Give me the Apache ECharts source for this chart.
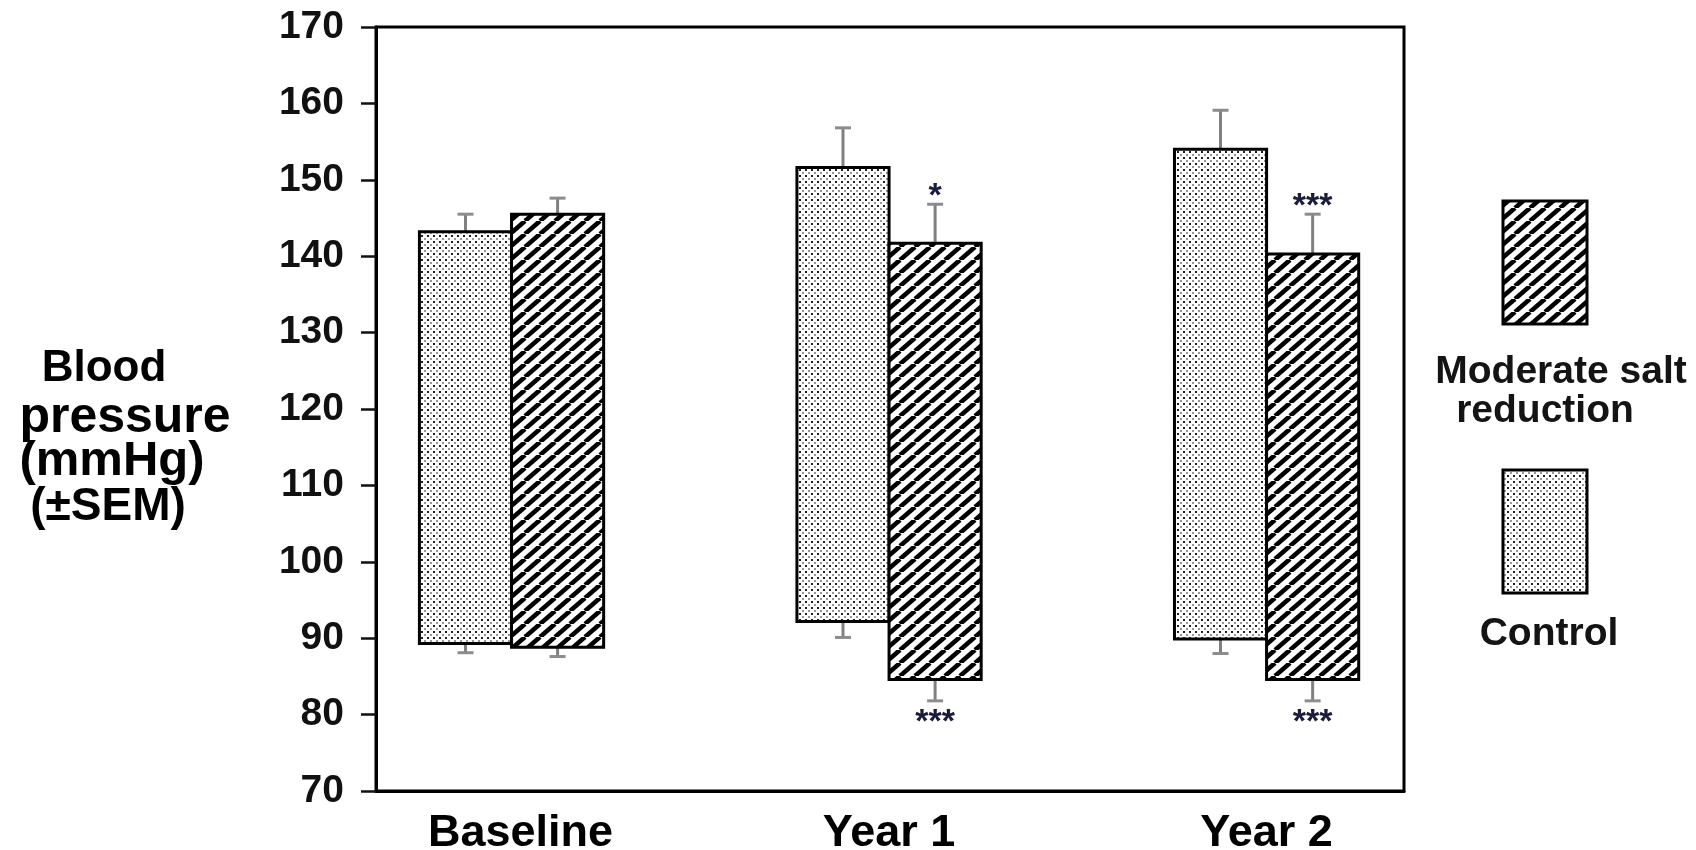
<!DOCTYPE html>
<html>
<head>
<meta charset="utf-8">
<script src="https://cdn.jsdelivr.net/npm/echarts@6/dist/echarts.min.js"></script>
<style>
html,body{margin:0;padding:0;background:#fff;}
#chart{width:1696px;height:850px;}
</style>
</head>
<body>
<div id="chart"></div>
<script>
// ---------- DATA ----------
const categories = ['Baseline', 'Year 1', 'Year 2'];
const seriesNames = ['Moderate salt reduction', 'Control'];
const legendLines = [['Moderate salt', 'reduction'], ['Control']];
const yTitleLines = ['Blood', 'pressure', '(mmHg)', '(\u00b1SEM)'];

// Control group (dotted bars): systolic (top) / diastolic (bottom), mmHg
const controlSystolic = [143.2, 151.6, 154.0];
const controlDiastolic = [89.3, 92.2, 89.9];
const controlSystolicSEM = [2.3, 5.2, 5.1];
const controlDiastolicSEM = [1.2, 2.1, 1.9];

// Moderate salt reduction (hatched bars)
const saltSystolic = [145.5, 141.7, 140.3];
const saltDiastolic = [88.8, 84.6, 84.6];
const saltSystolicSEM = [2.1, 5.1, 5.2];
const saltDiastolicSEM = [1.2, 2.8, 2.8];
const saltSystolicSig = ['', '*', '***'];
const saltDiastolicSig = ['', '***', '***'];
const controlSystolicSig = ['', '', ''];
const controlDiastolicSig = ['', '', ''];

const yMin = 70, yMax = 170, yStep = 10;

// ---------- PATTERNS ----------
function dotPattern() {
  const c = document.createElement('canvas');
  c.width = 6; c.height = 6;
  const g = c.getContext('2d');
  g.fillStyle = '#fff'; g.fillRect(0, 0, 6, 6);
  g.fillStyle = '#222'; g.fillRect(1, 1, 2, 2);
  g.fillStyle = '#999'; g.fillRect(4, 4, 2, 2);
  return c;
}
function hatchPattern() {
  const w = 15, h = 13;
  const c = document.createElement('canvas');
  c.width = w; c.height = h;
  const g = c.getContext('2d');
  g.fillStyle = '#fff'; g.fillRect(0, 0, w, h);
  g.strokeStyle = '#000'; g.lineWidth = 4.6;
  for (const x0 of [-w, 0, w]) {
    g.beginPath(); g.moveTo(x0, h); g.lineTo(x0 + w, 0); g.stroke();
  }
  return c;
}
const dotFill = { type: 'pattern', image: dotPattern(), repeat: 'repeat' };
const hatchFill = { type: 'pattern', image: hatchPattern(), repeat: 'repeat' };

const BAR_W = 0.244; // bar width in category units
const FONT = 'Liberation Sans, Arial, Helvetica, sans-serif';

function makeRender(side, fill, sysSig, diaSig) {
  return function (params, api) {
    const i = api.value(0);
    const dia = api.value(1), sys = api.value(2);
    const diaE = api.value(3), sysE = api.value(4);
    const left = side < 0 ? i - BAR_W : i;
    const right = side < 0 ? i : i + BAR_W;
    const p1 = api.coord([left, sys]);
    const p2 = api.coord([right, dia]);
    const cx = (p1[0] + p2[0]) / 2;
    const yTop = api.coord([i, sys + sysE])[1];
    const yBot = api.coord([i, dia - diaE])[1];
    const errStyle = { stroke: '#808080', lineWidth: 3 };
    const capStyle = { stroke: '#8c8c8c', lineWidth: 3 };
    const children = [
      { type: 'line', shape: { x1: cx, y1: p1[1], x2: cx, y2: yTop }, style: errStyle },
      { type: 'line', shape: { x1: cx - 8, y1: yTop, x2: cx + 8, y2: yTop }, style: capStyle },
      { type: 'line', shape: { x1: cx, y1: p2[1], x2: cx, y2: yBot }, style: errStyle },
      { type: 'line', shape: { x1: cx - 8, y1: yBot, x2: cx + 8, y2: yBot }, style: capStyle },
      { type: 'rect', shape: { x: p1[0], y: p1[1], width: p2[0] - p1[0], height: p2[1] - p1[1] },
        style: { fill: fill, stroke: '#000', lineWidth: 3 } }
    ];
    const ts = sysSig[params.dataIndex], bs = diaSig[params.dataIndex];
    if (ts) children.push({ type: 'text', style: { text: ts, x: cx, y: yTop + 9, align: 'center', verticalAlign: 'bottom',
      font: 'bold 34px ' + FONT, fill: '#1b1b3a' } });
    if (bs) children.push({ type: 'text', style: { text: bs, x: cx, y: yBot + 5, align: 'center', verticalAlign: 'top',
      font: 'bold 34px ' + FONT, fill: '#1b1b3a' } });
    return { type: 'group', children: children };
  };
}

function rows(sys, dia, sysE, diaE) {
  return categories.map((c, i) => [i, dia[i], sys[i], diaE[i], sysE[i]]);
}

const chart = echarts.init(document.getElementById('chart'), null, { renderer: 'canvas' });

const titleX = [104, 125, 112, 108];
const titleY = [369, 418, 461, 507];
const titleSize = [44, 50, 49, 46];

const graphic = [];
yTitleLines.forEach((t, k) => {
  graphic.push({ type: 'text', x: titleX[k], y: titleY[k],
    style: { text: t, font: 'bold ' + titleSize[k] + 'px ' + FONT, fill: '#000', align: 'center', verticalAlign: 'middle' } });
});
// legend swatches + labels
graphic.push({ type: 'rect', shape: { x: 1503, y: 201, width: 84, height: 123 },
  style: { fill: hatchFill, stroke: '#000', lineWidth: 3 } });
graphic.push({ type: 'text', x: 1561, y: 372, style: { text: legendLines[0][0], font: 'bold 39px ' + FONT, fill: '#141414', align: 'center', verticalAlign: 'middle' } });
graphic.push({ type: 'text', x: 1545, y: 411, style: { text: legendLines[0][1], font: 'bold 39px ' + FONT, fill: '#141414', align: 'center', verticalAlign: 'middle' } });
graphic.push({ type: 'rect', shape: { x: 1503, y: 470, width: 84, height: 123 },
  style: { fill: dotFill, stroke: '#000', lineWidth: 3 } });
graphic.push({ type: 'text', x: 1549, y: 634, style: { text: legendLines[1][0], font: 'bold 39px ' + FONT, fill: '#141414', align: 'center', verticalAlign: 'middle' } });

chart.setOption({
  animation: false,
  backgroundColor: '#fff',
  grid: { left: 376, right: 292, top: 27, bottom: 59, outerBoundsMode: 'none', containLabel: false,
    show: true, borderColor: '#000', borderWidth: 3, backgroundColor: 'transparent' },
  xAxis: {
    type: 'value', min: -0.359, max: 2.364,
    splitLine: { show: false },
    axisLine: { show: true, onZero: false, lineStyle: { color: '#000', width: 3 } },
    axisTick: { show: false },
    axisLabel: {
      customValues: [0, 1, 2],
      formatter: v => {
        const k = Math.round(v);
        return k === 0 ? '{shift|' + categories[k] + '}' : '{n|' + categories[k] + '}';
      },
      rich: {
        shift: { fontFamily: FONT, fontWeight: 'bold', fontSize: 45, color: '#000', padding: [0, 0, 0, 18] },
        n: { fontFamily: FONT, fontWeight: 'bold', fontSize: 45, color: '#000' }
      },
      fontFamily: FONT, fontWeight: 'bold', fontSize: 45, color: '#000', margin: 20
    }
  },
  yAxis: {
    type: 'value', min: yMin, max: yMax, interval: yStep,
    splitLine: { show: false },
    axisLine: { show: true, onZero: false, lineStyle: { color: '#000', width: 3 } },
    axisTick: { show: true, inside: false, length: 15, lineStyle: { color: '#111', width: 2.5 } },
    axisLabel: { fontFamily: FONT, fontWeight: 'bold', fontSize: 39, color: '#111', margin: 32 }
  },
  series: [
    { type: 'custom', name: seriesNames[1], renderItem: makeRender(-1, dotFill, controlSystolicSig, controlDiastolicSig),
      data: rows(controlSystolic, controlDiastolic, controlSystolicSEM, controlDiastolicSEM), clip: false },
    { type: 'custom', name: seriesNames[0], renderItem: makeRender(1, hatchFill, saltSystolicSig, saltDiastolicSig),
      data: rows(saltSystolic, saltDiastolic, saltSystolicSEM, saltDiastolicSEM), clip: false }
  ],
  graphic: graphic
});
</script>
</body>
</html>
